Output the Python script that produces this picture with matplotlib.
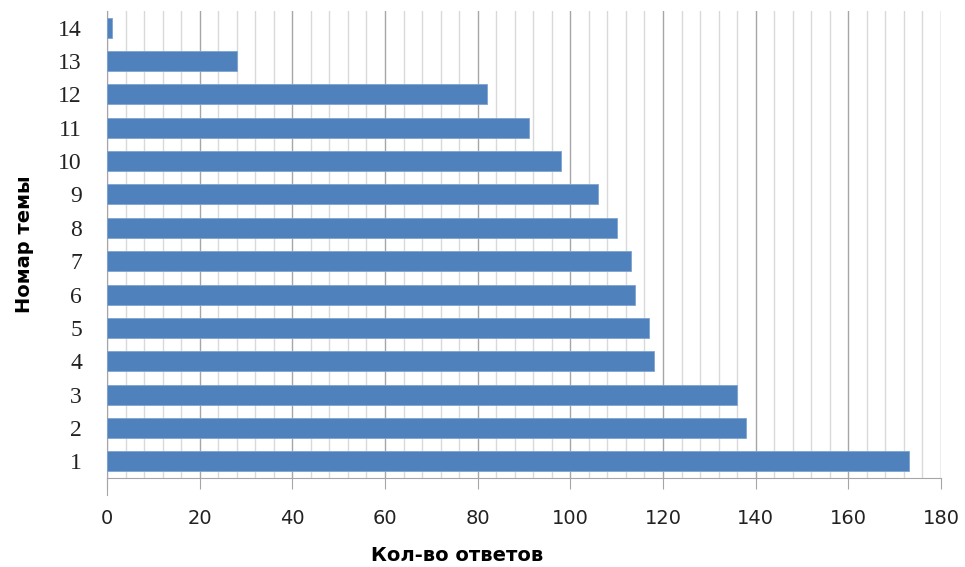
import matplotlib.pyplot as plt
from matplotlib.ticker import MultipleLocator

# topic numbers and answer counts
topics = ["1", "2", "3", "4", "5", "6", "7", "8", "9", "10", "11", "12", "13", "14"]
answers = [173, 138, 136, 118, 117, 114, 113, 110, 106, 98, 91, 82, 28, 1]

fig = plt.figure(figsize=(9.65, 5.67), dpi=100)
ax = fig.add_axes([0.1109, 0.157, 0.8642, 0.8236])

pos = list(range(1, len(topics) + 1))
ax.barh(pos, answers, height=0.6, color="#4F81BD", edgecolor="#7FA3D3", linewidth=0.6, zorder=3)

ax.set_xlim(0, 180)
ax.set_ylim(0.5, len(topics) + 0.5)
ax.xaxis.set_major_locator(MultipleLocator(20))
ax.xaxis.set_minor_locator(MultipleLocator(4))
ax.grid(which="major", axis="x", color="#a6a6a6", linewidth=1.0, zorder=0)
ax.grid(which="minor", axis="x", color="#d9d9d9", linewidth=1.0, zorder=0)

ax.set_yticks(pos)
ax.set_yticklabels(topics, fontfamily="Liberation Serif", fontsize=17, color="#222222")
ax.tick_params(axis="y", length=0, pad=18)
ax.tick_params(axis="x", which="major", length=8, color="#a6a6a6", pad=14,
               labelsize=14, labelcolor="#222222")
ax.tick_params(axis="x", which="minor", length=0)

for s in ["top", "right"]:
    ax.spines[s].set_visible(False)
for s in ["left", "bottom"]:
    ax.spines[s].set_color("#a6a6a6")
ax.spines["left"].set_bounds(-0.0, len(topics) + 0.5)

ax.set_xlabel("Кол-во ответов", fontsize=14, fontweight="bold")
ax.xaxis.set_label_coords(0.42, -0.145)
ax.set_ylabel("Номар темы", fontsize=14, fontweight="bold")
ax.yaxis.set_label_coords(-0.087, 0.5)

fig.savefig("out.png", dpi=100)
